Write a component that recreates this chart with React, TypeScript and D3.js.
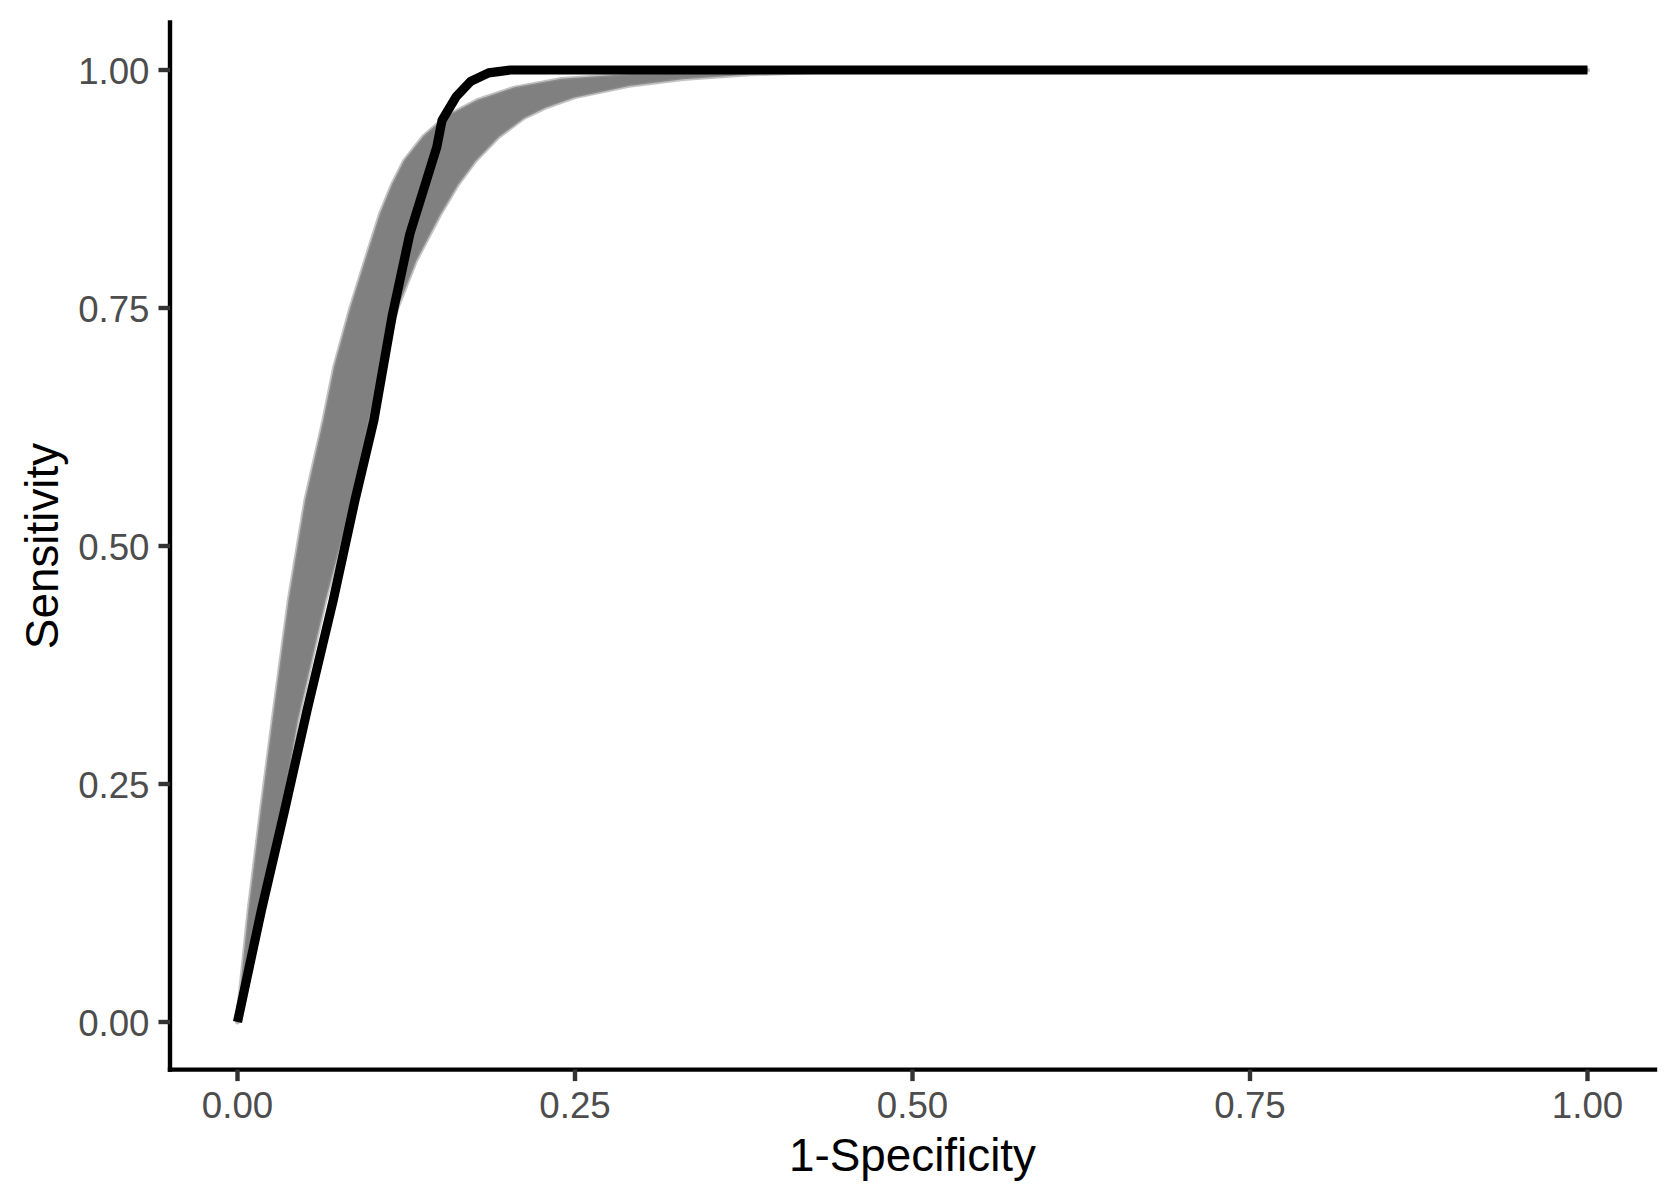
import React from "react";
import * as d3 from "d3";

// Tick values
const xTicks = [0, 0.25, 0.5, 0.75, 1];
const yTicks = [0, 0.25, 0.5, 0.75, 1];
const tickLabels = ["0.00", "0.25", "0.50", "0.75", "1.00"];

// Main ROC curve (black)
const blackX = [0, 0.0178, 0.035, 0.0516, 0.0709, 0.087, 0.101, 0.1145, 0.1277, 0.1476, 0.1515, 0.162, 0.1727, 0.186, 0.202, 1];
const blackY = [0, 0.118, 0.223, 0.328, 0.443, 0.548, 0.632, 0.741, 0.828, 0.919, 0.947, 0.972, 0.988, 0.997, 1.0, 1.0];

// Bootstrap ROC curves envelope (grey band) - upper/left edge
const bandUpperX = [0, 0.0086, 0.0178, 0.0264, 0.0383, 0.0506, 0.064, 0.072, 0.084, 0.095, 0.106, 0.115, 0.124, 0.138, 0.155, 0.178, 0.205, 0.24, 0.29, 0.36, 0.42, 1];
const bandUpperY = [0, 0.118, 0.223, 0.317, 0.443, 0.548, 0.632, 0.688, 0.75, 0.8, 0.849, 0.88, 0.905, 0.93, 0.951, 0.968, 0.981, 0.99, 0.995, 0.999, 1.0, 1.0];
// lower/right edge
const bandLowerX = [0, 0.0165, 0.0326, 0.0442, 0.0647, 0.0845, 0.097, 0.107, 0.118, 0.132, 0.15, 0.163, 0.176, 0.193, 0.212, 0.228, 0.25, 0.29, 0.33, 0.38, 0.44, 0.5, 1];
const bandLowerY = [0, 0.118, 0.223, 0.317, 0.443, 0.548, 0.632, 0.688, 0.75, 0.8, 0.849, 0.88, 0.905, 0.93, 0.95, 0.961, 0.972, 0.984, 0.991, 0.996, 0.999, 1.0, 1.0];

const W = 1678;
const H = 1203;
const panel = { left: 170, right: 1655, top: 22.4, bottom: 1069.6 };

export default function App() {
  const x = d3.scaleLinear().domain([-0.05, 1.05]).range([panel.left, panel.right]);
  const y = d3.scaleLinear().domain([-0.05, 1.05]).range([panel.bottom, panel.top]);

  const line = d3.line<[number, number]>().x((d) => x(d[0])).y((d) => y(d[1]));

  const blackPts: [number, number][] = blackX.map((v, i) => [v, blackY[i]]);
  const upper: [number, number][] = bandUpperX.map((v, i) => [v, bandUpperY[i]]);
  const lower: [number, number][] = bandLowerX.map((v, i) => [v, bandLowerY[i]]);
  const poly = [...upper, ...lower.slice().reverse()];
  const polyPath = line(poly) + "Z";

  const font = "'Liberation Sans', Arial, Helvetica, sans-serif";
  const axisW = 4.4;
  const tickLen = 11.5;

  return (
    <svg
      width={W}
      height={H}
      viewBox={`0 0 ${W} ${H}`}
      style={{ position: "absolute", left: 0, top: 0, display: "block", background: "#fff" }}
    >
      <rect x={0} y={0} width={W} height={H} fill="#ffffff" />
      {/* grey band of bootstrap curves */}
      <path d={polyPath} fill="none" stroke="#c2c2c2" strokeWidth={5} strokeLinejoin="round" />
      <path d={polyPath} fill="#808080" stroke="#8a8a8a" strokeWidth={1.5} strokeLinejoin="round" />
      {/* main curve */}
      <path d={line(blackPts) || ""} fill="none" stroke="#000" strokeWidth={9.2} strokeLinejoin="round" strokeLinecap="butt" />

      {/* axes */}
      <line x1={panel.left} x2={panel.left} y1={panel.top} y2={panel.bottom} stroke="#000" strokeWidth={axisW} strokeLinecap="square" />
      <line x1={panel.left} x2={panel.right} y1={panel.bottom} y2={panel.bottom} stroke="#000" strokeWidth={axisW} strokeLinecap="square" />

      {yTicks.map((t, i) => (
        <g key={"y" + i}>
          <line x1={panel.left - tickLen} x2={panel.left} y1={y(t)} y2={y(t)} stroke="#333333" strokeWidth={axisW} />
          <text x={149.5} y={y(t) + 14} textAnchor="end" fontFamily={font} fontSize={36.67} fill="#4D4D4D">
            {tickLabels[i]}
          </text>
        </g>
      ))}
      {xTicks.map((t, i) => (
        <g key={"x" + i}>
          <line x1={x(t)} x2={x(t)} y1={panel.bottom} y2={panel.bottom + tickLen} stroke="#333333" strokeWidth={axisW} />
          <text x={x(t)} y={1117.5} textAnchor="middle" fontFamily={font} fontSize={36.67} fill="#4D4D4D">
            {tickLabels[i]}
          </text>
        </g>
      ))}

      <text x={(panel.left + panel.right) / 2} y={1171} textAnchor="middle" fontFamily={font} fontSize={45.83} fill="#000">
        1-Specificity
      </text>
      <text
        transform={`translate(58, ${(panel.top + panel.bottom) / 2}) rotate(-90)`}
        textAnchor="middle"
        fontFamily={font}
        fontSize={45.83}
        fill="#000"
      >
        Sensitivity
      </text>
    </svg>
  );
}
